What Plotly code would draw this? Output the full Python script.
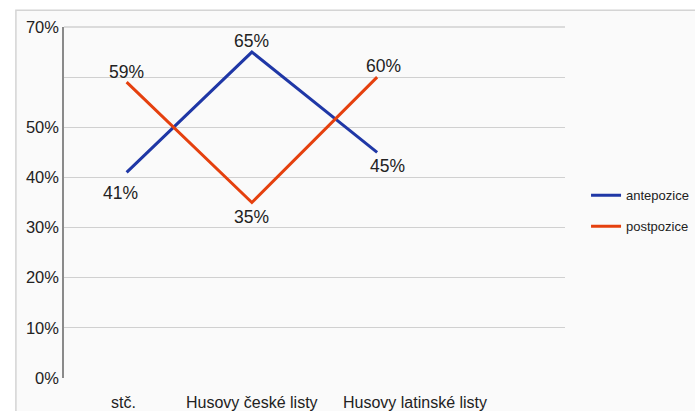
import plotly.graph_objects as go

categories = ["stč.", "Husovy české listy", "Husovy latinské listy"]
antepozice = [41, 65, 45]
postpozice = [59, 35, 60]
y_ticks = [0, 10, 20, 30, 40, 50, 60, 70]
y_ticktext = ["0%", "10%", "20%", "30%", "40%", "50%", "", "70%"]

BLUE = "#1f37a6"
ORANGE = "#e5400e"
FONT = "Liberation Sans, Arial, sans-serif"

x = list(range(len(categories)))

fig = go.Figure()
fig.add_trace(go.Scatter(x=x, y=antepozice, mode="lines", name="antepozice",
                         line=dict(color=BLUE, width=3), legendgroup="a"))
fig.add_trace(go.Scatter(x=x, y=postpozice, mode="lines", name="postpozice",
                         line=dict(color=ORANGE, width=3), legendgroup="b"))

# data labels: (xshift, yshift) per point
ante_shift = [(-6, -21), (0, 11), (10, -14)]
post_shift = [(0, 10), (0, -14), (6, 11)]
for i, v in enumerate(antepozice):
    dx, dy = ante_shift[i]
    fig.add_annotation(x=i, y=v, text=f"{v}%", showarrow=False, xshift=dx, yshift=dy,
                       font=dict(size=17.5, color="#222", family=FONT))
for i, v in enumerate(postpozice):
    dx, dy = post_shift[i]
    fig.add_annotation(x=i, y=v, text=f"{v}%", showarrow=False, xshift=dx, yshift=dy,
                       font=dict(size=17.5, color="#222", family=FONT))

# category labels
cat_shift = [-3, 0, 38]
for i, c in enumerate(categories):
    fig.add_annotation(x=i, y=0, text=c, showarrow=False, xshift=cat_shift[i], yshift=-24,
                       font=dict(size=16, color="#222", family=FONT))

# outer frame / light background
fig.add_shape(type="rect", xref="paper", yref="paper", x0=-0.096, x1=1.3, y0=-0.2, y1=1.048,
              line=dict(color="#d4d4d4", width=1.5), fillcolor="#fafafa", layer="below")
# top gridline (70 %) at the top edge of the plot area
fig.add_shape(type="line", xref="paper", yref="paper", x0=0, x1=1, y0=1, y1=1,
              line=dict(color="#d0d0d0", width=1.5), layer="above")

fig.update_layout(
    width=695, height=411,
    margin=dict(l=64, r=130, t=27, b=33, autoexpand=False),
    paper_bgcolor="white",
    plot_bgcolor="rgba(0,0,0,0)",
    font=dict(family=FONT, color="#222"),
    showlegend=True,
    legend=dict(x=1.042, y=0.563, xanchor="left", yanchor="top",
                bgcolor="rgba(0,0,0,0)", font=dict(size=13, color="#222"),
                tracegroupgap=11),
    xaxis=dict(range=[-0.5, 3.5], showticklabels=False, showgrid=False, zeroline=False,
               showline=False, fixedrange=True),
    yaxis=dict(range=[0, 70], tickvals=y_ticks, ticktext=y_ticktext,
               showgrid=True, gridcolor="#d0d0d0", gridwidth=1.2, zeroline=False,
               showline=True, linecolor="#8a8a8a", linewidth=1.5,
               tickfont=dict(size=16.5, color="#222", family=FONT), ticks=""),
)

fig.write_html("out.html")
